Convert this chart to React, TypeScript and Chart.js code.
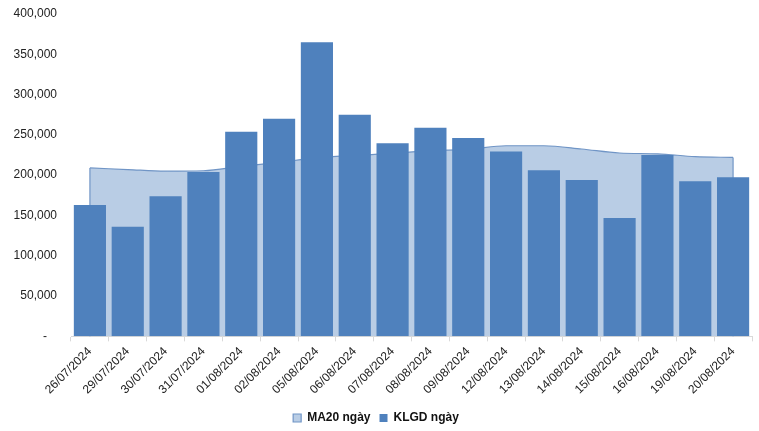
import React, { useEffect, useRef } from "react";
import { Chart, registerables } from "chart.js";

Chart.register(...registerables);

const categories = [
  "26/07/2024", "29/07/2024", "30/07/2024", "31/07/2024", "01/08/2024", "02/08/2024",
  "05/08/2024", "06/08/2024", "07/08/2024", "08/08/2024", "09/08/2024", "12/08/2024",
  "13/08/2024", "14/08/2024", "15/08/2024", "16/08/2024", "19/08/2024", "20/08/2024",
];

const klgdValues = [
  163000, 136000, 174000, 204000, 254000, 270000, 365000, 275000, 239500,
  259000, 246000, 229500, 206000, 194000, 147000, 225000, 192500, 197500,
];

const ma20Values = [
  209000, 207000, 205000, 205500, 211000, 216000, 221500, 224500, 227000,
  230500, 232000, 236500, 236500, 232500, 227500, 226500, 223000, 222000,
];

const yTicks = [0, 50000, 100000, 150000, 200000, 250000, 300000, 350000, 400000];

const areaEdges = {
  id: "areaEdges",
  afterDatasetDraw(chart: any, args: any) {
    if (args.index !== 0) return;
    const meta = chart.getDatasetMeta(0);
    const pts = meta.data;
    if (!pts.length) return;
    const base = chart.scales.y.getPixelForValue(0);
    const ctx = chart.ctx;
    ctx.save();
    ctx.strokeStyle = "#7095C6";
    ctx.lineWidth = 1.2;
    for (const p of [pts[0], pts[pts.length - 1]]) {
      ctx.beginPath();
      ctx.moveTo(p.x, p.y);
      ctx.lineTo(p.x, base);
      ctx.stroke();
    }
    ctx.restore();
  },
};

export default function App() {
  const ref = useRef<HTMLCanvasElement>(null);

  useEffect(() => {
    if (!ref.current) return;
    const font = "'Liberation Sans', Arial, sans-serif";
    const chart = new Chart(ref.current, {
      type: "bar",
      data: {
        labels: categories,
        datasets: [
          {
            type: "line",
            label: "MA20 ngày",
            data: ma20Values,
            backgroundColor: "#B9CDE5",
            borderColor: "#7095C6",
            borderWidth: 1.2,
            fill: "origin",
            pointRadius: 0,
            tension: 0.4,
            cubicInterpolationMode: "monotone",
            order: 2,
          } as any,
          {
            type: "bar",
            label: "KLGD ngày",
            data: klgdValues,
            backgroundColor: "#4F81BD",
            borderWidth: 0,
            barPercentage: 0.85,
            categoryPercentage: 1,
            order: 1,
          },
        ],
      },
      plugins: [areaEdges],
      options: {
        animation: false,
        responsive: true,
        maintainAspectRatio: false,
        layout: { padding: { top: 0, right: 7, left: 0, bottom: -3 } },
        plugins: {
          tooltip: { enabled: false },
          legend: {
            position: "bottom",
            labels: {
              font: { family: font, size: 12, weight: "bold" },
              color: "#111",
              boxWidth: 8,
              boxHeight: 8,
              padding: 9,
              sort: (a: any, b: any) => a.datasetIndex - b.datasetIndex,
            },
          },
        },
        scales: {
          x: {
            offset: true,
            afterFit: (axis: any) => {
              axis.height += 3;
            },
            grid: {
              display: true,
              drawOnChartArea: false,
              offset: true,
              tickLength: 5,
              color: "#D9D9D9",
            },
            border: { display: true, color: "#D9D9D9" },
            ticks: {
              font: { family: font, size: 12 },
              color: "#222",
              minRotation: 45,
              maxRotation: 45,
              autoSkip: false,
              padding: 3,
            },
          },
          y: {
            min: 0,
            max: 400000,
            afterBuildTicks: (axis: any) => {
              axis.ticks = yTicks.map((v) => ({ value: v }));
            },
            afterFit: (axis: any) => {
              axis.width = 71;
              axis.paddingTop = 14;
            },
            grid: { display: false, drawTicks: false },
            border: { display: false },
            ticks: {
              font: { family: font, size: 12 },
              color: "#222",
              padding: 14,
              callback: (v: any) => (Number(v) === 0 ? "-   " : Number(v).toLocaleString("en-US")),
            },
          },
        },
      },
    });
    return () => chart.destroy();
  }, []);

  return (
    <div style={{ position: "fixed", left: 0, top: 0, width: 759, height: 431, background: "#fff" }}>
      <canvas ref={ref} />
    </div>
  );
}
